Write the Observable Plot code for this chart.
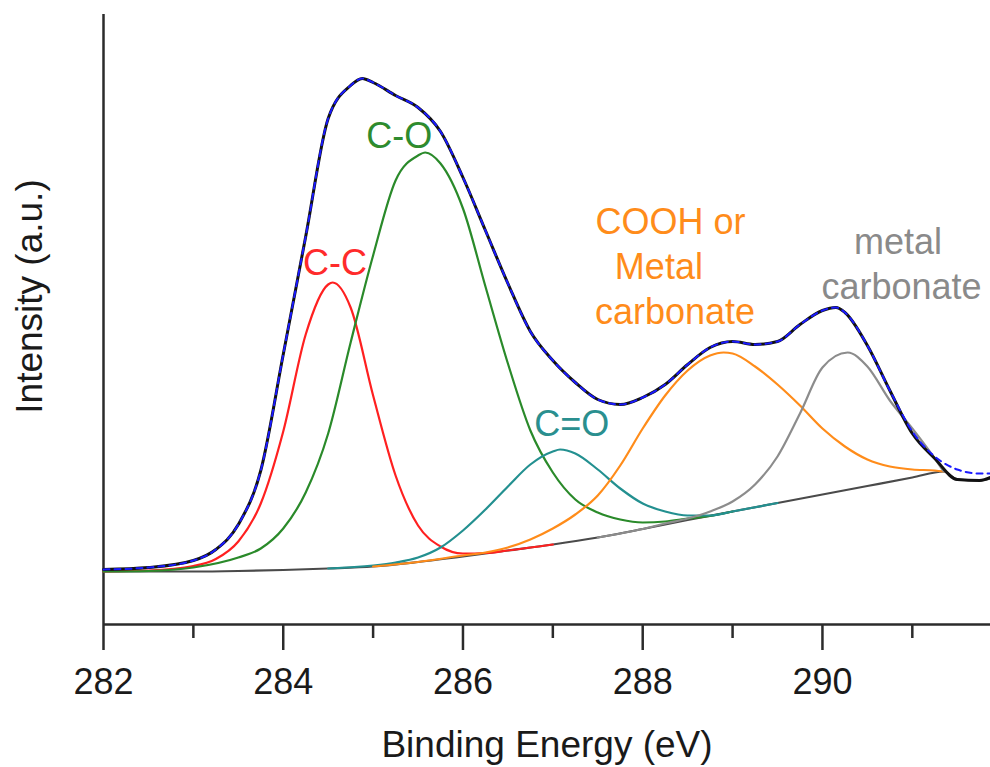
<!DOCTYPE html>
<html>
<head>
<meta charset="utf-8">
<script src="https://cdn.jsdelivr.net/npm/d3@7"></script>
<script src="https://cdn.jsdelivr.net/npm/@observablehq/plot@0.6"></script>
<style>
  html, body { margin: 0; padding: 0; background: #fff; }
  #chart { width: 990px; height: 767px; }
</style>
</head>
<body>
<div id="chart"></div>
<script>
// ---- Data (binding energy in eV, intensity in arbitrary units) ----
const dataEnergy = [282.0, 282.5, 283.0, 283.25, 283.5, 283.75, 284.0, 284.25, 284.5, 284.75, 284.88, 285.0, 285.25, 285.5, 285.75, 286.0, 286.25, 286.5, 286.75, 287.0, 287.25, 287.5, 287.75, 288.0, 288.25, 288.5, 288.75, 289.0, 289.25, 289.5, 289.75, 290.0, 290.15, 290.25, 290.5, 290.75, 291.0, 291.25, 291.5, 291.75, 291.87];
const dataIntensity = [55, 57, 64, 75, 100, 154, 270, 388, 506, 539, 546, 542, 529, 517, 493, 447, 394, 341, 293, 264, 242, 225, 220, 227, 240, 260, 277, 283, 280, 283, 300, 314, 317, 312, 279, 234, 191, 166, 145, 144, 147];
const fitIntensity  = [55, 57, 64, 75, 100, 154, 270, 388, 506, 539, 546, 542, 529, 517, 493, 447, 394, 341, 293, 264, 242, 225, 220, 227, 240, 260, 277, 283, 280, 283, 300, 314, 317, 312, 279, 234, 193, 168, 155, 151, 151];

const bgEnergy = [282.0, 282.5, 283.0, 283.5, 284.0, 284.5, 285.0, 285.5, 286.0, 286.5, 287.0, 287.5, 288.0, 288.5, 289.0, 289.5, 290.0, 290.5, 291.0, 291.35, 291.5, 291.75, 291.87];
const bgIntensity = [53, 53, 53, 53.5, 54.5, 56, 58, 62.5, 68, 74, 80, 87, 95.5, 104.5, 113, 121.5, 130, 138.5, 147, 153, 145, 144, 146];

const ccEnergy = [282.0, 282.5, 283.0, 283.25, 283.5, 283.75, 284.0, 284.25, 284.5, 284.55, 284.75, 285.0, 285.25, 285.5, 285.75, 286.0, 286.25, 286.5, 287.0];
const ccIntensity = [53, 54, 58.5, 65.5, 83, 121, 193, 290, 340, 342, 317, 229, 149, 99, 78, 71, 71.5, 74, 80];

const coEnergy = [282.0, 282.5, 283.0, 283.5, 283.75, 284.0, 284.25, 284.5, 284.75, 285.0, 285.25, 285.5, 285.58, 285.75, 286.0, 286.25, 286.5, 286.75, 287.0, 287.25, 287.5, 287.75, 288.0, 288.25, 288.5, 288.75, 289.0];
const coIntensity = [53, 53.5, 57, 67, 76, 96, 132, 191, 282, 369, 444, 469, 472, 461, 416, 338, 261, 194, 152, 125, 112, 105, 102, 103, 106, 108.5, 113];

const c2oEnergy = [284.5, 285.0, 285.25, 285.5, 285.75, 286.0, 286.25, 286.5, 286.75, 287.0, 287.08, 287.25, 287.5, 287.75, 288.0, 288.25, 288.5, 288.75, 289.0, 289.5];
const c2oIntensity = [56, 59, 62, 67, 77, 94, 115, 138, 160, 173, 175, 171, 155, 136, 121, 113, 109, 109, 113, 121.5];

const coohEnergy = [285.0, 285.5, 286.0, 286.25, 286.5, 286.75, 287.0, 287.25, 287.5, 287.75, 288.0, 288.25, 288.5, 288.75, 288.9, 289.0, 289.25, 289.5, 289.75, 290.0, 290.25, 290.5, 290.75, 291.0, 291.25, 291.35];
const coohIntensity = [58, 62.5, 69, 72, 77, 85, 96, 110, 129, 159, 196, 229, 254, 269, 272, 271, 258, 240, 219, 196, 178, 165, 158, 155, 154, 153];

const carbEnergy = [287.5, 288.0, 288.25, 288.5, 288.75, 289.0, 289.25, 289.5, 289.75, 290.0, 290.28, 290.5, 290.75, 291.0, 291.25, 291.35];
const carbIntensity = [87, 95.5, 101, 106, 113, 123, 140, 168, 211, 257, 272, 258, 224, 196, 166, 153];

const majorTicks = [282, 284, 286, 288, 290];
const minorTicks = [283, 285, 287, 289, 291];

const xTitle = "Binding Energy (eV)";
const yTitle = "Intensity (a.u.)";

const annotations = [
  {label: "C-C", E: 284.575, I: 361, color: "#ff2b2b"},
  {label: "C-O", E: 285.29, I: 488, color: "#2e8b2e"},
  {label: "C=O", E: 287.21, I: 200.5, color: "#2a8f8f"},
  {label: "COOH or", E: 288.31, I: 402.5, color: "#ff8c1a"},
  {label: "Metal", E: 288.18, I: 357.5, color: "#ff8c1a"},
  {label: "carbonate", E: 288.36, I: 312.5, color: "#ff8c1a"},
  {label: "metal", E: 290.84, I: 382.5, color: "#8a8a8a"},
  {label: "carbonate", E: 290.88, I: 337.5, color: "#8a8a8a"}
];

// ---- Build rows ----
const rows = (xs, ys) => xs.map((x, i) => ({E: x, I: ys[i]}));
const bg = rows(bgEnergy, bgIntensity);
const cc = rows(ccEnergy, ccIntensity);
const co = rows(coEnergy, coIntensity);
const c2o = rows(c2oEnergy, c2oIntensity);
const cooh = rows(coohEnergy, coohIntensity);
const carb = rows(carbEnergy, carbIntensity);
const raw = rows(dataEnergy, dataIntensity);
const fit = rows(dataEnergy, fitIntensity);

const axisColor = "#2b2b2b";
const lineOpts = (color, w = 2.2) => ({x: "E", y: "I", stroke: color, strokeWidth: w, curve: "monotone-x"});

const chart = Plot.plot({
  width: 990,
  height: 767,
  marginLeft: 103,
  marginRight: 0,
  marginTop: 14,
  marginBottom: 143,
  style: {fontFamily: "'Liberation Sans', Arial, sans-serif", background: "#fff", color: "#1a1a1a"},
  x: {domain: [282, 291.87]},
  y: {domain: [0, 610], axis: null},
  color: {type: "identity"},
  marks: [
    Plot.axisX(majorTicks, {tickSize: 26, tickPadding: 18, fontSize: 36, stroke: axisColor, strokeWidth: 2.5, fill: "#1a1a1a", label: null, tickFormat: d => String(d)}),
    Plot.axisX(minorTicks, {tickSize: 14, tickFormat: () => "", stroke: axisColor, strokeWidth: 2.5, label: null}),
    Plot.ruleY([0], {stroke: axisColor, strokeWidth: 2.5}),
    Plot.ruleX([282], {stroke: axisColor, strokeWidth: 2.5}),
    Plot.line(bg, lineOpts("#4a4a4a", 2.2)),
    Plot.line(cc, lineOpts("#ff2020")),
    Plot.line(co, lineOpts("#2a8a2a")),
    Plot.line(c2o, lineOpts("#239090")),
    Plot.line(cooh, lineOpts("#ff8c1a")),
    Plot.line(carb, lineOpts("#8c8c8c")),
    Plot.line(raw, lineOpts("#111111", 3)),
    Plot.line(fit, {...lineOpts("#1a1aff", 2), strokeDasharray: "6,5"}),
    Plot.text([xTitle], {frameAnchor: "bottom", lineAnchor: "middle", textAnchor: "middle", dy: 121, fontSize: 37, fill: "#1a1a1a"}),
    Plot.text([yTitle], {frameAnchor: "left", textAnchor: "middle", lineAnchor: "middle", dx: -73, dy: -23, rotate: -90, fontSize: 37, fill: "#1a1a1a"}),
    Plot.text(annotations, {x: "E", y: "I", text: "label", fill: "color", fontSize: 36})
  ]
});
document.getElementById("chart").appendChild(chart);
</script>
</body>
</html>
